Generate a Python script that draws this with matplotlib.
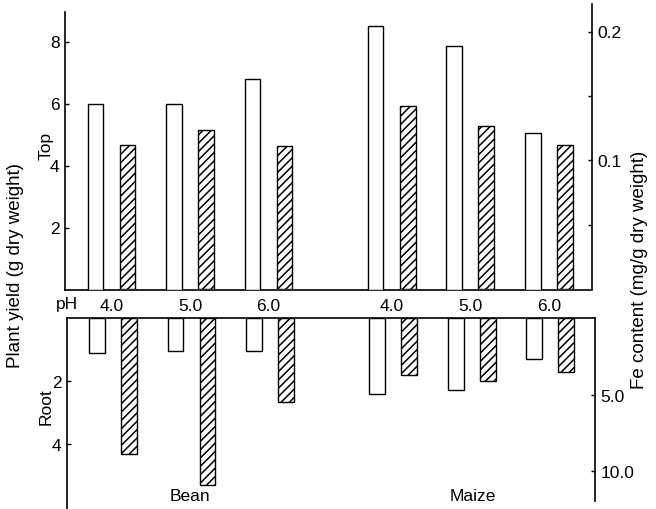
import matplotlib
matplotlib.use("Agg")
import matplotlib.pyplot as plt
import numpy as np

# ---- data ----
crops = ["Bean", "Maize"]
ph_labels = ["4.0", "5.0", "6.0"]
top_yield_bean = [6.0, 6.0, 6.8]
top_yield_maize = [8.5, 7.85, 5.05]
top_fe_bean = [0.112, 0.124, 0.111]
top_fe_maize = [0.142, 0.127, 0.112]
root_yield_bean = [1.1, 1.05, 1.05]
root_yield_maize = [2.4, 2.3, 1.3]
root_fe_bean = [8.9, 10.9, 5.5]
root_fe_maize = [3.7, 4.1, 3.5]

plt.rcParams["font.family"] = ["Liberation Sans", "DejaVu Sans"]
plt.rcParams["hatch.linewidth"] = 1.1
FS = 12.5
FSL = 13.5

W, H = 656, 510
fig = plt.figure(figsize=(W / 100, H / 100), dpi=100)

def fx(px):
    return px / W

def fy(py):
    return (H - py) / H

# x positions (group layout)
maize_offset = 3.57
pos = np.concatenate([np.arange(3), np.arange(3) + maize_offset])
off = 0.205
bw = 0.2

top_yield = top_yield_bean + top_yield_maize
top_fe = top_fe_bean + top_fe_maize
root_yield = root_yield_bean + root_yield_maize
root_fe = root_fe_bean + root_fe_maize

lw = 1.0
# ---- top panel ----
axT = fig.add_axes([fx(65), fy(290.5), fx(592) - fx(65), fy(5) - fy(290.5)])
axT.set_xlim(-0.592, 6.121)
axT.set_ylim(0, 285.5 / 31)
axT.bar(pos - off, top_yield, width=bw, color="white", edgecolor="black", linewidth=lw, zorder=3)
axTr = axT.twinx()
axTr.set_ylim(0, 285.5 / 1290)
axTr.bar(pos + off, top_fe, width=bw, color="white", edgecolor="black", hatch="////", linewidth=lw, zorder=3)

for a in (axT, axTr):
    a.spines["top"].set_visible(False)
    a.patch.set_visible(False)
axT.spines["right"].set_visible(False)
axTr.spines["left"].set_visible(False)
axTr.spines["bottom"].set_visible(False)
axT.spines["left"].set_bounds(0, (290.5 - 13) / 31)
for s in ("left", "bottom"):
    axT.spines[s].set_linewidth(1.2)
axTr.spines["right"].set_linewidth(1.2)

axT.set_yticks([2, 4, 6, 8])
axT.set_yticklabels(["2", "4", "6", "8"], fontsize=FS)
axT.tick_params(axis="y", direction="in", length=3, width=1, pad=4)
axTr.set_yticks([0.1, 0.2])
axTr.set_yticklabels(["0.1", "0.2"], fontsize=FS)
axTr.set_yticks([0.05, 0.15], minor=True)
axTr.tick_params(axis="y", which="both", direction="in", length=3, width=1, pad=4)
axT.set_xticks(pos)
axT.set_xticklabels(ph_labels * 2, fontsize=FS)
axT.tick_params(axis="x", length=0, pad=6)

# ---- bottom panel ----
axB = fig.add_axes([fx(67), fy(510), fx(595) - fx(67), fy(319) - fy(510)])
axB.set_xlim(-0.586, 6.14)
axB.set_ylim(191 / 31.5, 0)
axB.bar(pos - off, root_yield, width=bw, color="white", edgecolor="black", linewidth=lw, zorder=3)
axBr = axB.twinx()
axBr.set_ylim(191 / 15.3, 0)
axBr.bar(pos + off, root_fe, width=bw, color="white", edgecolor="black", hatch="////", linewidth=lw, zorder=3)

for a in (axB, axBr):
    a.spines["bottom"].set_visible(False)
    a.patch.set_visible(False)
axB.spines["right"].set_visible(False)
axBr.spines["left"].set_visible(False)
axBr.spines["top"].set_visible(False)
axBr.spines["right"].set_bounds(0, (502 - 319) / 15.3)
for s in ("left", "top"):
    axB.spines[s].set_linewidth(1.2)
axBr.spines["right"].set_linewidth(1.2)

axB.set_xticks([])
axB.set_yticks([2, 4])
axB.set_yticklabels(["2", "4"], fontsize=FS)
axB.tick_params(axis="y", direction="in", length=3, width=1, pad=4)
axBr.set_yticks([5.0, 10.0])
axBr.set_yticklabels(["5.0", "10.0"], fontsize=FS)
axBr.tick_params(axis="y", direction="in", length=3, width=1, pad=4)

# ---- labels ----
fig.text(fx(67), fy(305), "pH", fontsize=FS, ha="center", va="center")
fig.text(fx(16), fy(266), "Plant yield (g dry weight)", fontsize=FSL, rotation=90, ha="center", va="center")
fig.text(fx(46), fy(146), "Top", fontsize=FS, rotation=90, ha="center", va="center")
fig.text(fx(46), fy(407), "Root", fontsize=FS, rotation=90, ha="center", va="center")
fig.text(fx(640), fy(270), "Fe content (mg/g dry weight)", fontsize=FSL, rotation=90, ha="center", va="center")
fig.text(fx(190), fy(497), crops[0], fontsize=FS, ha="center", va="center")
fig.text(fx(473), fy(497), crops[1], fontsize=FS, ha="center", va="center")

fig.savefig("out.png", dpi=100)
